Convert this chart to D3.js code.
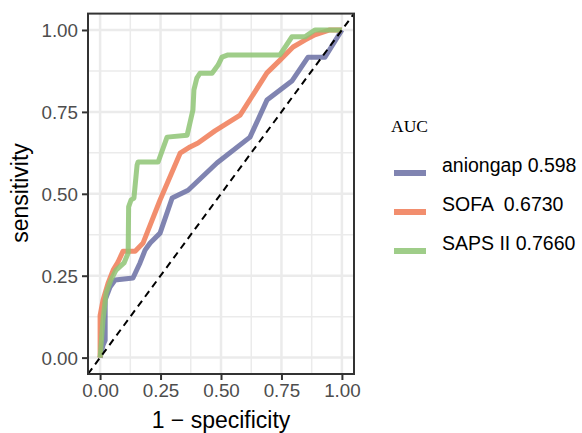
<!DOCTYPE html>
<html><head><meta charset="utf-8">
<script src="https://cdn.jsdelivr.net/npm/d3@7"></script>
<style>body{margin:0;background:#fff;} svg{display:block;}</style>
</head><body>
<script>
// ---- data ----
const seriesNames = ["aniongap", "SOFA", "SAPS II"];
const legendLabels = ["aniongap 0.598", "SOFA  0.6730", "SAPS II 0.7660"];
const colors = ["#6a6fa3", "#f07a55", "#8ec474"];
const aniongapFPR = [0,0.012,0.021,0.021,0.041,0.062,0.136,0.165,0.186,0.207,0.248,0.298,0.364,0.483,0.62,0.69,0.793,0.86,0.93,1];
const aniongapTPR = [0,0.038,0.053,0.176,0.215,0.237,0.243,0.289,0.328,0.35,0.38,0.487,0.511,0.594,0.673,0.786,0.844,0.917,0.917,1];
const sofaFPR = [0,0,0.012,0.033,0.054,0.074,0.095,0.145,0.178,0.248,0.331,0.372,0.405,0.475,0.579,0.69,0.744,0.798,0.847,0.888,0.95,1];
const sofaTPR = [0,0.129,0.175,0.227,0.267,0.292,0.325,0.325,0.35,0.481,0.624,0.643,0.655,0.692,0.74,0.869,0.908,0.948,0.969,0.985,1,1];
const sapsFPR = [0,0.012,0.025,0.045,0.066,0.099,0.116,0.118,0.128,0.14,0.153,0.157,0.24,0.277,0.36,0.384,0.388,0.40,0.413,0.463,0.488,0.504,0.529,0.744,0.793,0.847,0.888,1];
const sapsTPR = [0,0.115,0.197,0.237,0.267,0.289,0.319,0.46,0.481,0.487,0.588,0.597,0.597,0.673,0.679,0.756,0.817,0.853,0.868,0.868,0.893,0.917,0.924,0.924,0.979,0.979,1,1];
const tickValues = [0, 0.25, 0.5, 0.75, 1];
const tickLabels = ["0.00", "0.25", "0.50", "0.75", "1.00"];
const minorTicks = [0.125, 0.375, 0.625, 0.875];

const W = 582, H = 433;
const svg = d3.select("body").append("svg").attr("width", W).attr("height", H);
svg.append("rect").attr("width", W).attr("height", H).attr("fill", "#fff");

const x = d3.scaleLinear().domain([-0.05, 1.05]).range([88, 354]);
const y = d3.scaleLinear().domain([-0.05, 1.05]).range([374, 13.6]);

const g = svg.append("g");
// grid
const grid = g.append("g");
minorTicks.forEach(v => {
  grid.append("line").attr("x1", x(v)).attr("x2", x(v)).attr("y1", y(-0.05)).attr("y2", y(1.05)).attr("stroke", "#ebebeb").attr("stroke-width", 1.5);
  grid.append("line").attr("y1", y(v)).attr("y2", y(v)).attr("x1", x(-0.05)).attr("x2", x(1.05)).attr("stroke", "#ebebeb").attr("stroke-width", 1.5);
});
tickValues.forEach(v => {
  grid.append("line").attr("x1", x(v)).attr("x2", x(v)).attr("y1", y(-0.05)).attr("y2", y(1.05)).attr("stroke", "#ebebeb").attr("stroke-width", 2.5);
  grid.append("line").attr("y1", y(v)).attr("y2", y(v)).attr("x1", x(-0.05)).attr("x2", x(1.05)).attr("stroke", "#ebebeb").attr("stroke-width", 2.5);
});

// curves
const series = [
  {fpr: aniongapFPR, tpr: aniongapTPR},
  {fpr: sofaFPR, tpr: sofaTPR},
  {fpr: sapsFPR, tpr: sapsTPR}
];
const line = d3.line().x(d => x(d[0])).y(d => y(d[1]));
series.forEach((s, i) => {
  const pts = s.fpr.map((f, j) => [f, s.tpr[j]]);
  g.append("path").attr("d", line(pts)).attr("fill", "none")
    .attr("stroke", colors[i]).attr("stroke-width", 5).attr("stroke-opacity", 0.85)
    .attr("stroke-linejoin", "round").attr("stroke-linecap", "butt");
});

// diagonal
g.append("line").attr("x1", x(-0.05)).attr("y1", y(-0.05)).attr("x2", x(1.05)).attr("y2", y(1.05))
  .attr("stroke", "#000").attr("stroke-width", 2).attr("stroke-dasharray", "7,5");

// panel border
g.append("rect").attr("x", x(-0.05)).attr("y", y(1.05)).attr("width", x(1.05) - x(-0.05)).attr("height", y(-0.05) - y(1.05))
  .attr("fill", "none").attr("stroke", "#333").attr("stroke-width", 2);

// axes
const xAxis = d3.axisBottom(x).tickValues(tickValues).tickFormat((d, i) => tickLabels[i]).tickSize(5).tickPadding(4);
const yAxis = d3.axisLeft(y).tickValues(tickValues).tickFormat((d, i) => tickLabels[i]).tickSize(5).tickPadding(4);
const gx = svg.append("g").attr("transform", `translate(0,${y(-0.05) + 1})`).call(xAxis);
const gy = svg.append("g").attr("transform", `translate(${x(-0.05) - 1},0)`).call(yAxis);
[gx, gy].forEach(a => {
  a.select(".domain").remove();
  a.selectAll(".tick line").attr("stroke", "#333").attr("stroke-width", 2);
  a.selectAll(".tick text").attr("fill", "#4d4d4d").style("font-family", "'Liberation Sans', Arial, sans-serif").style("font-size", "18.8px");
});
gx.selectAll(".tick text").attr("dy", "0.71em");
gy.selectAll(".tick text").attr("dy", "0.36em");

// titles
svg.append("text").attr("x", 221).attr("y", 428).attr("text-anchor", "middle")
  .style("font-family", "'Liberation Sans', Arial, sans-serif").style("font-size", "23px").text("1 − specificity");
svg.append("text").attr("transform", "translate(28,193) rotate(-90)").attr("text-anchor", "middle")
  .style("font-family", "'Liberation Sans', Arial, sans-serif").style("font-size", "23px").text("sensitivity");

// legend
const lg = svg.append("g");
lg.append("text").attr("x", 391).attr("y", 132).style("font-family", "'Liberation Serif', 'Times New Roman', serif").style("font-size", "17.5px").text("AUC");
legendLabels.forEach((lab, i) => {
  const cy = 173 + i * 39;
  lg.append("line").attr("x1", 394).attr("x2", 426).attr("y1", cy).attr("y2", cy)
    .attr("stroke", colors[i]).attr("stroke-width", 6).attr("stroke-opacity", 0.85);
  lg.append("text").attr("x", 442).attr("y", cy - 1).attr("xml:space", "preserve").style("white-space", "pre")
    .style("font-family", "'Liberation Sans', Arial, sans-serif").style("font-size", "19.5px").text(lab);
});
</script>
</body></html>
